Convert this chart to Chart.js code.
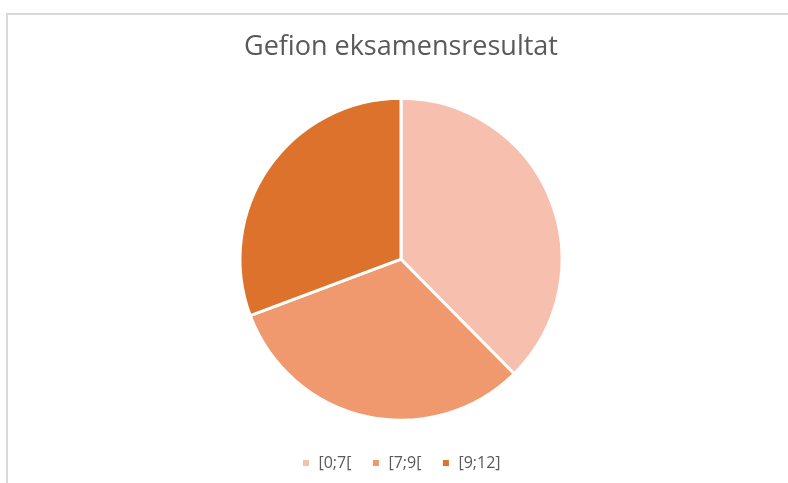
<!DOCTYPE html>
<html>
<head>
<meta charset="utf-8">
<script src="https://cdn.jsdelivr.net/npm/chart.js@4"></script>
<style>
  html, body { margin: 0; padding: 0; background: #fff; overflow: hidden; }
  #wrap { position: relative; width: 788px; height: 483px; overflow: hidden; }
  #frame {
    position: absolute; left: 6px; top: 13px; width: 900px; height: 600px;
    border: 2px solid #d9d9d9; pointer-events: none;
  }
  canvas { position: absolute; left: 0; top: 0; }
</style>
</head>
<body>
<div id="wrap">
  <div id="frame"></div>
  <canvas id="pieChart" width="788" height="483"></canvas>
</div>
<script>
const chartTitle = "Gefion eksamensresultat";
const categories = ["[0;7[", "[7;9[", "[9;12]"];
const shares = [37.6, 31.7, 30.7];
const sliceColors = ["#f6bfae", "#f0986e", "#dc722c"];

const ctx = document.getElementById("pieChart").getContext("2d");

window.chart1 = new Chart(ctx, {
  type: "pie",
  data: {
    labels: categories,
    datasets: [
      {
        data: shares,
        backgroundColor: sliceColors,
        borderColor: "#ffffff",
        borderWidth: 3,
        radius: 161,
      },
    ],
  },
  options: {
    responsive: false,
    animation: false,
    layout: {
      padding: { left: 14, right: 0, top: 0, bottom: 2 },
    },
    plugins: {
      title: {
        display: true,
        text: chartTitle,
        color: "#595959",
        font: { family: "Open Sans", size: 27, weight: "normal" },
        padding: { top: 31, bottom: 20 },
      },
      legend: {
        position: "bottom",
        maxHeight: 50,
        labels: {
          color: "#595959",
          font: { family: "Open Sans", size: 16 },
          boxWidth: 9,
          boxHeight: 9,
          padding: 20,
        },
      },
      tooltip: { enabled: false },
    },
  },
});
</script>
</body>
</html>
